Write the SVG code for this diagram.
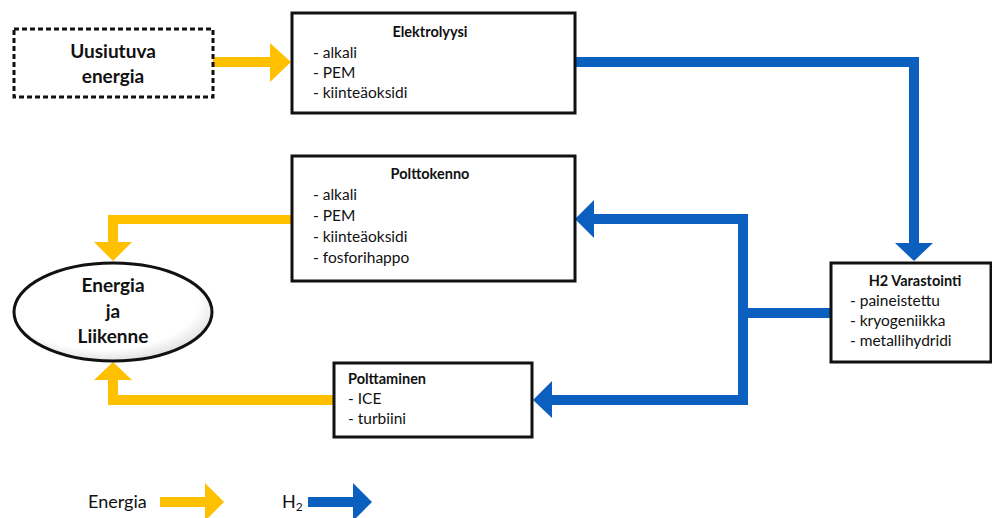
<svg xmlns="http://www.w3.org/2000/svg" width="992" height="518" viewBox="0 0 992 518">
<style>
.box{fill:#fff;stroke:#111;stroke-width:3}
.t{font-family:Lato,"Open Sans","Liberation Sans",sans-serif;fill:#111}
.h{font-weight:bold;font-size:14.5px}
.i{font-size:15.5px}
.e{font-size:19px;font-weight:bold}
.y{fill:#FFC000}
.b{fill:#0B5FBF}
</style>
<defs>
<radialGradient id="eg" cx="45%" cy="40%" r="60%">
<stop offset="0.8" stop-color="#fff"/>
<stop offset="1" stop-color="#e2e2e2"/>
</radialGradient>
</defs>
<g id="connectors">
<path class="y" d="M213 57 H270 V43 L291 62 L270 82 V67 H213 Z"/>
<path class="b" d="M575 57 H919 V243 H933 L914 261 L895 243 H909 V67 H575 Z"/>
<path class="b" d="M831 308 H748 V405 H552 V418 L533 400 L552 381 V395 H738 V224 H594 V238 L575 219 L594 200 V214 H748 V308 Z M831 308 V318 H748 V308 Z"/>
<path class="y" d="M292 215 H108 V242 H94 L113 261 L132 242 H118 V224 H292 Z"/>
<path class="y" d="M333 395 H118 V380 H132 L113 362 L94 380 H108 V405 H333 Z"/>
</g>
<g id="uusiutuva">
<rect x="14" y="29" width="199" height="68" fill="#fff" stroke="#111" stroke-width="3" stroke-dasharray="5,3"/>
<text class="t e" x="113" y="58" text-anchor="middle">Uusiutuva</text>
<text class="t e" x="113" y="83" text-anchor="middle">energia</text>
</g>
<g id="elektrolyysi">
<rect class="box" x="292" y="13" width="283" height="100"/>
<text class="t h" x="430" y="37" text-anchor="middle">Elektrolyysi</text>
<text class="t i" x="313" y="58">- alkali</text>
<text class="t i" x="313" y="78">- PEM</text>
<text class="t i" x="313" y="98">- kiinteäoksidi</text>
</g>
<g id="polttokenno">
<rect class="box" x="292" y="156" width="283" height="125"/>
<text class="t h" x="430" y="179" text-anchor="middle">Polttokenno</text>
<text class="t i" x="313" y="200">- alkali</text>
<text class="t i" x="313" y="221">- PEM</text>
<text class="t i" x="313" y="242">- kiinteäoksidi</text>
<text class="t i" x="313" y="263">- fosforihappo</text>
</g>
<g id="polttaminen">
<rect class="box" x="334" y="363" width="198" height="74"/>
<text class="t h" x="348" y="384">Polttaminen</text>
<text class="t i" x="348" y="404">- ICE</text>
<text class="t i" x="348" y="424">- turbiini</text>
</g>
<g id="varastointi">
<rect class="box" x="831" y="263" width="160" height="99"/>
<text class="t h" x="915" y="286" text-anchor="middle">H2 Varastointi</text>
<text class="t i" x="850" y="306">- paineistettu</text>
<text class="t i" x="850" y="326">- kryogeniikka</text>
<text class="t i" x="850" y="346">- metallihydridi</text>
</g>
<g id="energia-liikenne">
<ellipse cx="113" cy="312" rx="99" ry="49" fill="url(#eg)" stroke="#111" stroke-width="3"/>
<text class="t e" x="113" y="292" text-anchor="middle">Energia</text>
<text class="t e" x="113" y="318" text-anchor="middle">ja</text>
<text class="t e" x="113" y="343" text-anchor="middle">Liikenne</text>
</g>
<g id="legend">
<text class="t" x="88" y="508" font-size="18" fill="#222">Energia</text>
<path class="y" d="M160 497 H205 V483 L224 502 L205 521 V507 H160 Z"/>
<text class="t" x="282" y="508" font-size="18" fill="#222">H<tspan font-size="12" dy="3">2</tspan></text>
<path class="b" d="M308 497 H353 V483 L372 502 L353 521 V507 H308 Z"/>
</g>
</svg>
